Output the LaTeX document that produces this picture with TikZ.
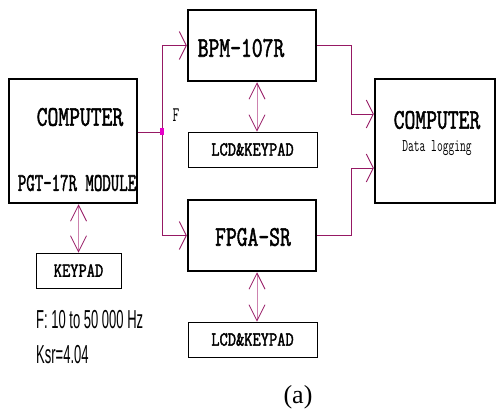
\documentclass[tikz,border=0pt]{standalone}
\usepackage{fontspec}
\usepackage{graphicx}
\setmainfont{Liberation Serif}
\setsansfont{Liberation Sans}
\newfontfamily\boxfont{Latin Modern Mono}[FakeBold=2.2]
\usetikzlibrary{arrows.meta}

\definecolor{wire}{RGB}{150,25,100}
\definecolor{wirelight}{RGB}{205,130,175}
\definecolor{dotmag}{RGB}{230,0,200}

% testo "allungato" in verticale
\newcommand{\tall}[2][1.35]{\scalebox{1}[#1]{#2}}

\begin{document}
\begin{tikzpicture}[x=1pt, y=-1pt,
    bigbox/.style={draw, line width=2.5pt, inner sep=0pt},
    smallbox/.style={draw, line width=0.8pt, inner sep=0pt, minimum height=35pt,
        font=\boxfont\fontsize{16}{16}\selectfont},
    bigtxt/.style={inner sep=0pt, font=\boxfont\fontsize{21}{21}\selectfont},
    midtxt/.style={inner sep=0pt, font=\boxfont\fontsize{16.4}{16.4}\selectfont},
    thintxt/.style={inner sep=0pt, font=\ttfamily\fontsize{11.2}{11.2}\selectfont},
    spectxt/.style={inner sep=0pt, anchor=west, font=\sffamily\fontsize{13}{13}\selectfont},
    link/.style={draw=wire, line width=0.8pt},
    tohead/.style={-{Straight Barb[length=7pt, width=28pt, line width=0.8pt]}},
    dbl/.style={draw=wirelight, line width=1pt,
        {Straight Barb[length=16pt, width=16pt, line width=0.8pt, color=wire]}-{Straight Barb[length=16pt, width=16pt, line width=0.8pt, color=wire]}},
    junction/.style={fill=dotmag, inner sep=0pt, minimum width=3.5pt, minimum height=7pt}
]
    \useasboundingbox (0,0) rectangle (498,417);

    % Computer con modulo PGT-17R
    \node[bigbox, minimum width=128pt, minimum height=124pt] (pgt) at (73,141) {};
    \node[bigtxt] (pgtname) at (80,117) {\tall{COMPUTER}};
    \node[midtxt] (pgtmod) at (77,183) {\tall[1.55]{PGT-17R MODULE}};
    \node[smallbox, minimum width=85pt] (keypad) at (78.5,270.5) {\tall[1.25]{KEYPAD}};
    \draw[dbl] (pgt.south -| keypad.north) -- (keypad.north);

    % BPM-107R
    \node[bigbox, minimum width=128pt, minimum height=71pt] (bpm) at (252,45.5) {};
    \node[bigtxt] (bpmname) at (241,48) {\tall{BPM-107R}};
    \node[smallbox, minimum width=129pt] (lcdA) at (252.5,149.5) {\tall[1.25]{LCD\&KEYPAD}};
    \draw[dbl] ([xshift=5pt]bpm.south) -- ([xshift=5pt]bpm.south |- lcdA.north);

    % FPGA-SR
    \node[bigbox, minimum width=128pt, minimum height=71pt] (fpga) at (252,235.5) {};
    \node[bigtxt] (fpganame) at (253,237) {\tall{FPGA-SR}};
    \node[smallbox, minimum width=129pt] (lcdB) at (252.5,339.5) {\tall[1.25]{LCD\&KEYPAD}};
    \draw[dbl] ([xshift=5pt]fpga.south) -- ([xshift=5pt]fpga.south |- lcdB.north);

    % Computer di acquisizione
    \node[bigbox, minimum width=120pt, minimum height=124pt] (pcr) at (435,141) {};
    \node[bigtxt] (pcrname) at (437,120) {\tall{COMPUTER}};
    \node[thintxt] (pcrsub) at (437,148) {\tall[1.6]{Data logging}};

    % Segnale F
    \coordinate (fork) at (162,132);
    \draw[link] ([yshift=9pt]pgt.east) -- (fork);
    \draw[link, tohead] (fork) |- (bpm.west);
    \draw[link, tohead] (fork) |- (fpga.west);
    \node[junction] (dot) at (fork) {};
    \node[inner sep=0pt, font=\ttfamily\fontsize{13}{13}\selectfont] (flabel) at (176,115) {\tall[1.6]{F}};

    % Uscite verso il computer
    \draw[link, tohead] (bpm.east) -- ++(34,0) |- ([yshift=27pt]pcr.west);
    \draw[link, tohead] (fpga.east) -- ++(34,0) |- ([yshift=-27pt]pcr.west);

    % Parametri
    \node[spectxt] (frange) at (36,320) {\tall[2]{F: 10 to 50 000 Hz}};
    \node[spectxt] (ksr) at (36,355) {\tall[2]{Ksr=4.04}};
    \node[inner sep=0pt, font=\fontsize{26}{26}\selectfont] (caption) at (298,397) {(a)};
\end{tikzpicture}
\end{document}
